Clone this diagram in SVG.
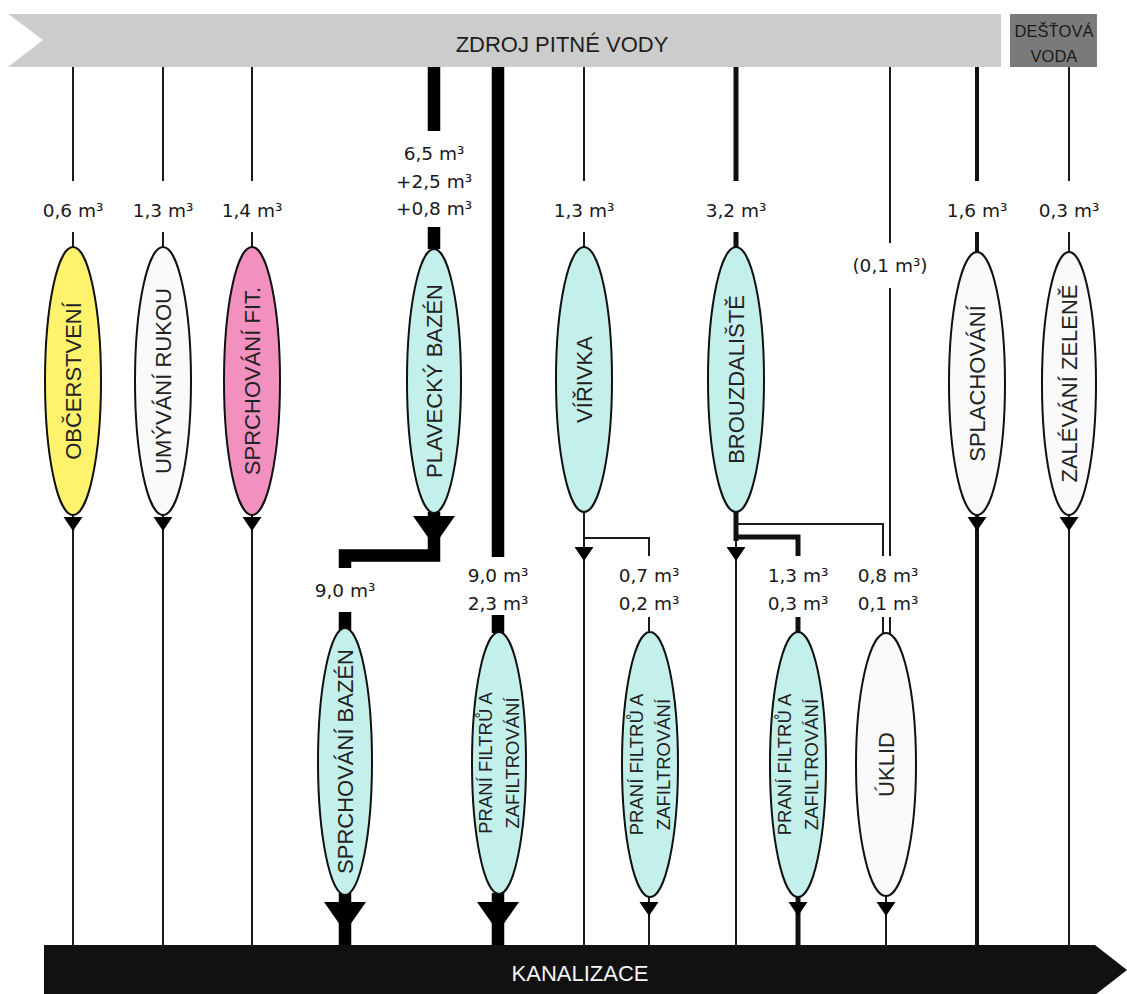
<svg xmlns="http://www.w3.org/2000/svg" xmlns:xlink="http://www.w3.org/1999/xlink" width="1127" height="994" viewBox="0 0 1127 994">
  <defs>
    <style>
      .thin { stroke: #1a1a1a; stroke-width: 2; fill: none; }
      .mid { stroke: #111; stroke-width: 5; fill: none; }
      .thick { stroke: #000; stroke-width: 12.5; fill: none; stroke-linejoin: miter; }
      .qty { font-family: "DejaVu Sans", "Liberation Sans", sans-serif; font-size: 18.5px; fill: #1a1a1a; text-anchor: middle; }
      .lbl { font-family: "Liberation Sans", Arial, sans-serif; font-size: 22px; fill: #222; text-anchor: middle; }
      .lbl2 { font-family: "Liberation Sans", Arial, sans-serif; font-size: 18.5px; fill: #222; text-anchor: middle; }
      .node { stroke: #111; stroke-width: 2; }
      .white { fill: #fafafa; }
      .cyan { fill: #c4f0eb; }
      .yellow { fill: #fff36d; }
      .pink { fill: #f290bf; }
      .arrow { fill: #000; }
    </style>
    <path id="tri" d="M-9.5,0 L9.5,0 L0,14 Z"/>
    <path id="funnel" d="M-21,0 L21,0 L0,30 Z"/>
  </defs>

  <rect width="1127" height="994" fill="#ffffff"/>

  <!-- supply banner -->
  <g id="zdroj">
    <polygon points="8,14 1001,14 1001,67 8,67 43,40" fill="#cccccc"/>
    <text x="562" y="52" font-family="Liberation Sans, Arial, sans-serif" font-size="22" fill="#1e1e1e" text-anchor="middle">ZDROJ PITNÉ VODY</text>
  </g>
  <g id="destova-voda">
    <rect x="1010" y="14" width="87" height="53" fill="#7a7a7a"/>
    <text x="1054" y="37" font-family="Liberation Sans, Arial, sans-serif" font-size="16.5" fill="#1a1a1a" text-anchor="middle">DEŠŤOVÁ</text>
    <text x="1054" y="62" font-family="Liberation Sans, Arial, sans-serif" font-size="16.5" fill="#1a1a1a" text-anchor="middle">VODA</text>
  </g>

  <!-- sewer banner -->
  <g id="kanalizace">
    <polygon points="44,945 1095,945 1127,970 1095,995 44,995" fill="#111111"/>
    <text x="580" y="981" font-family="Liberation Sans, Arial, sans-serif" font-size="22" fill="#f5f5f5" text-anchor="middle">KANALIZACE</text>
  </g>

  <!-- flow lines -->
  <g id="connectors">
    <!-- občerstvení -->
    <path class="thin" d="M73,67 V181 M73,232 V247 M73,515 V945"/>
    <use href="#tri" x="73" y="517" class="arrow"/>
    <!-- umývání rukou -->
    <path class="thin" d="M163,67 V181 M163,232 V247 M163,515 V945"/>
    <use href="#tri" x="163" y="517" class="arrow"/>
    <!-- sprchování fit. -->
    <path class="thin" d="M252,67 V181 M252,232 V247 M252,515 V945"/>
    <use href="#tri" x="252" y="517" class="arrow"/>
    <!-- plavecký bazén -> sprchování bazén -->
    <path class="thick" d="M434,67 V131 M434,227 V249"/>
    <path class="thick" d="M434,512 V555.5 H345 V568"/>
    <use href="#funnel" x="434" y="516" class="arrow"/>
    <path class="thick" d="M345,612 V630 M345,893 V945"/>
    <use href="#funnel" x="345" y="902" class="arrow"/>
    <!-- direct supply to praní filtrů (bazén) -->
    <path class="thick" d="M498,67 V557 M498,615 V633 M498,893 V945"/>
    <use href="#funnel" x="498" y="902" class="arrow"/>
    <!-- vířivka -->
    <path class="thin" d="M584,67 V181 M584,232 V248 M584,511 V945"/>
    <use href="#tri" x="584" y="547" class="arrow"/>
    <path class="thin" d="M584,538 H649 V556 M649,617 V633 M649,896 V945"/>
    <use href="#tri" x="649" y="902" class="arrow"/>
    <!-- brouzdaliště -->
    <path class="mid" d="M736,67 V181 M736,232 V248 M736,511 V541"/>
    <path class="thin" d="M736,540 V945"/>
    <use href="#tri" x="736" y="547" class="arrow"/>
    <path class="mid" d="M736,537 H798 V556 M798,617 V633 M798,896 V945"/>
    <use href="#tri" x="798" y="902" class="arrow"/>
    <path class="thin" d="M736,524 H883 V556"/>
    <!-- úklid -->
    <path class="thin" d="M890,67 V243 M890,288 V556"/>
    <path class="thin" d="M883,617 V635 M890,617 V635 M886,896 V945"/>
    <use href="#tri" x="886" y="902" class="arrow"/>
    <!-- splachování -->
    <path class="mid" d="M977,67 V181 M977,232 V253 M977,514 V945" style="stroke-width:4"/>
    <use href="#tri" x="977" y="517" class="arrow"/>
    <!-- zalévání zeleně -->
    <path class="thin" d="M1069,67 V181 M1069,232 V253 M1069,514 V945"/>
    <use href="#tri" x="1069" y="517" class="arrow"/>
  </g>

  <!-- quantities -->
  <g id="quantities">
    <text class="qty" x="73" y="217">0,6 m³</text>
    <text class="qty" x="163" y="217">1,3 m³</text>
    <text class="qty" x="252" y="217">1,4 m³</text>
    <text class="qty" x="434" y="160">6,5 m³</text>
    <text class="qty" x="434" y="188">+2,5 m³</text>
    <text class="qty" x="434" y="215">+0,8 m³</text>
    <text class="qty" x="584" y="217">1,3 m³</text>
    <text class="qty" x="736" y="217">3,2 m³</text>
    <text class="qty" x="890" y="272">(0,1 m³)</text>
    <text class="qty" x="977" y="217">1,6 m³</text>
    <text class="qty" x="1069" y="217">0,3 m³</text>
    <text class="qty" x="345" y="597">9,0 m³</text>
    <text class="qty" x="498" y="582">9,0 m³</text>
    <text class="qty" x="498" y="610">2,3 m³</text>
    <text class="qty" x="649" y="582">0,7 m³</text>
    <text class="qty" x="649" y="610">0,2 m³</text>
    <text class="qty" x="798" y="582">1,3 m³</text>
    <text class="qty" x="798" y="610">0,3 m³</text>
    <text class="qty" x="888" y="582">0,8 m³</text>
    <text class="qty" x="888" y="610">0,1 m³</text>
  </g>

  <!-- upper consumers -->
  <g id="obcerstveni">
    <ellipse class="node yellow" cx="73" cy="381" rx="28" ry="134"/>
    <text class="lbl" transform="translate(73,381) rotate(-90)" y="8">OBČERSTVENÍ</text>
  </g>
  <g id="umyvani-rukou">
    <ellipse class="node white" cx="163" cy="381" rx="28" ry="134"/>
    <text class="lbl" transform="translate(163,381) rotate(-90)" y="8">UMÝVÁNÍ RUKOU</text>
  </g>
  <g id="sprchovani-fit">
    <ellipse class="node pink" cx="252" cy="381" rx="28" ry="134"/>
    <text class="lbl" transform="translate(252,381) rotate(-90)" y="8">SPRCHOVÁNÍ FIT.</text>
  </g>
  <g id="plavecky-bazen">
    <ellipse class="node cyan" cx="434" cy="381" rx="27" ry="132"/>
    <text class="lbl" transform="translate(434,381) rotate(-90)" y="8">PLAVECKÝ BAZÉN</text>
  </g>
  <g id="virivka">
    <ellipse class="node cyan" cx="584" cy="379.5" rx="28" ry="132.5"/>
    <text class="lbl" transform="translate(584,379.5) rotate(-90)" y="8">VÍŘIVKA</text>
  </g>
  <g id="brouzdaliste">
    <ellipse class="node cyan" cx="736" cy="379.5" rx="28" ry="132.5"/>
    <text class="lbl" transform="translate(736,379.5) rotate(-90)" y="8">BROUZDALIŠTĚ</text>
  </g>
  <g id="splachovani">
    <ellipse class="node white" cx="977" cy="383.5" rx="28" ry="131.5"/>
    <text class="lbl" transform="translate(977,383.5) rotate(-90)" y="8">SPLACHOVÁNÍ</text>
  </g>
  <g id="zalevani-zelene">
    <ellipse class="node white" cx="1069" cy="383.5" rx="27" ry="131.5"/>
    <text class="lbl" transform="translate(1069,383.5) rotate(-90)" y="8">ZALÉVÁNÍ ZELENĚ</text>
  </g>

  <!-- lower consumers -->
  <g id="sprchovani-bazen">
    <ellipse class="node cyan" cx="345" cy="761.5" rx="27" ry="133.5"/>
    <text class="lbl" transform="translate(345,761.5) rotate(-90)" y="8">SPRCHOVÁNÍ BAZÉN</text>
  </g>
  <g id="prani-filtru-bazen">
    <ellipse class="node cyan" cx="499" cy="763" rx="27" ry="131"/>
    <text class="lbl2" transform="translate(499,763) rotate(-90)" y="-7">PRANÍ FILTRŮ A</text>
    <text class="lbl2" transform="translate(499,763) rotate(-90)" y="20">ZAFILTROVÁNÍ</text>
  </g>
  <g id="prani-filtru-virivka">
    <ellipse class="node cyan" cx="650" cy="764.5" rx="28" ry="132.5"/>
    <text class="lbl2" transform="translate(650,764.5) rotate(-90)" y="-7">PRANÍ FILTRŮ A</text>
    <text class="lbl2" transform="translate(650,764.5) rotate(-90)" y="20">ZAFILTROVÁNÍ</text>
  </g>
  <g id="prani-filtru-brouzdaliste">
    <ellipse class="node cyan" cx="798" cy="764.5" rx="28" ry="132.5"/>
    <text class="lbl2" transform="translate(798,764.5) rotate(-90)" y="-7">PRANÍ FILTRŮ A</text>
    <text class="lbl2" transform="translate(798,764.5) rotate(-90)" y="20">ZAFILTROVÁNÍ</text>
  </g>
  <g id="uklid">
    <ellipse class="node white" cx="886" cy="764.5" rx="30" ry="131.5"/>
    <text class="lbl" transform="translate(886,764.5) rotate(-90)" y="8">ÚKLID</text>
  </g>
</svg>
